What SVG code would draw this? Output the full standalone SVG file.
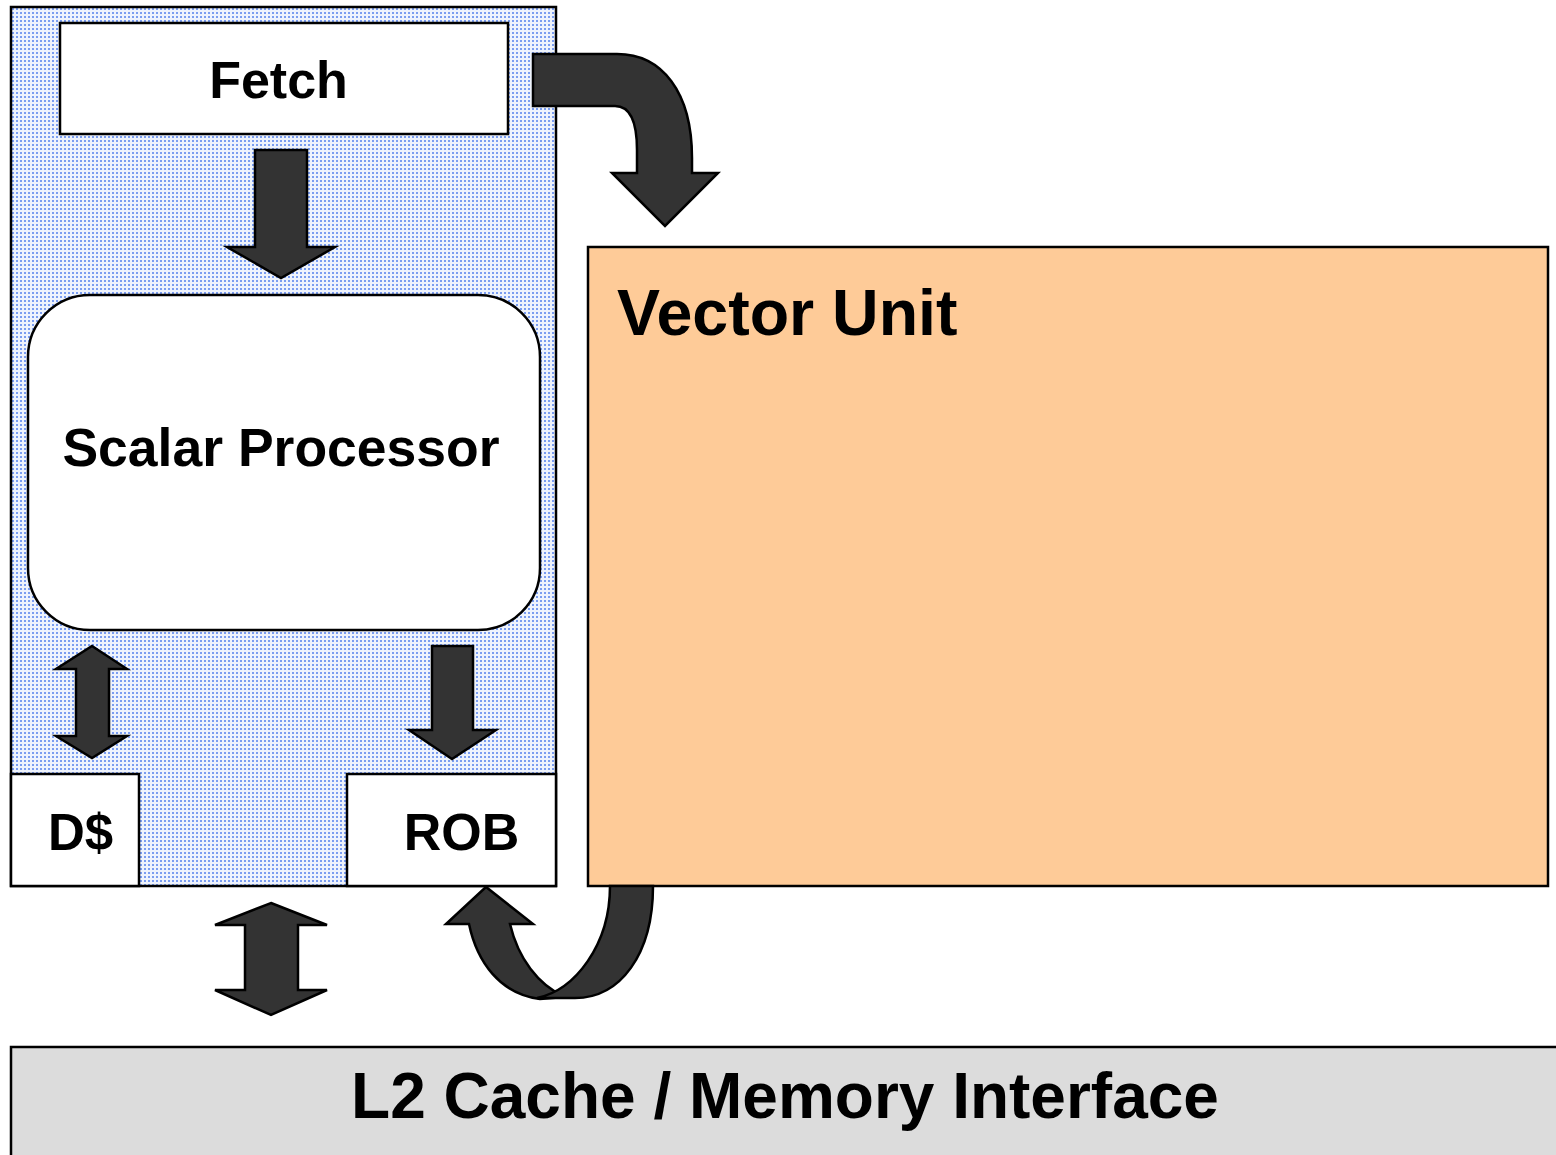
<svg xmlns="http://www.w3.org/2000/svg" width="1556" height="1155" viewBox="0 0 1556 1155">
<defs>
<pattern id="dots" width="4" height="4" patternUnits="userSpaceOnUse">
<rect width="4" height="4" fill="#eef3fd"/>
<rect width="2" height="2" fill="#7a9df0"/>
</pattern>
</defs>
<style>
.box{stroke:#000;stroke-width:2.5}
.arr{fill:#333333;stroke:#000;stroke-width:2.5;stroke-linejoin:miter}
text{font-family:"Liberation Sans",Arial,sans-serif;font-weight:bold;fill:#000}
</style>
<g id="scalar-core">
<rect class="box" x="11" y="7" width="545" height="879" fill="url(#dots)"/>
</g>
<g id="fetch">
<rect class="box" x="60" y="23" width="448" height="111" fill="#fff"/>
<text x="278.5" y="98" font-size="52" text-anchor="middle">Fetch</text>
</g>
<g id="scalar-processor">
<rect class="box" x="28" y="295" width="512" height="335" rx="62" ry="62" fill="#fff"/>
<text x="281" y="466" font-size="53.5" text-anchor="middle">Scalar Processor</text>
</g>
<g id="dcache">
<rect class="box" x="11" y="774" width="128" height="112" fill="#fff"/>
<text x="80.5" y="850" font-size="51" text-anchor="middle">D$</text>
</g>
<g id="rob">
<rect class="box" x="347" y="774" width="209" height="112" fill="#fff"/>
<text x="461.5" y="850" font-size="52" text-anchor="middle">ROB</text>
</g>
<g id="vector-unit">
<rect class="box" x="588" y="247" width="960" height="639" fill="#fecb98"/>
<text x="617" y="335" font-size="64.5">Vector Unit</text>
</g>
<g id="l2">
<rect class="box" x="11" y="1047" width="1560" height="120" fill="#dcdcdc"/>
<text x="785" y="1118" font-size="64" text-anchor="middle">L2 Cache / Memory Interface</text>
</g>
<g id="connectors">
<path class="arr" d="M255,150 L307,150 L307,247 L335,247 L281,278 L227,247 L255,247 Z"/>
<path class="arr" d="M92,646 L127,669 L109,669 L109,736 L127,736 L92,758 L56,736 L76,736 L76,669 L56,669 Z"/>
<path class="arr" d="M432,646 L473,646 L473,730 L496,730 L452,759 L409,730 L432,730 Z"/>
<path class="arr" d="M271,903 L327,925 L298,925 L298,990 L327,990 L271,1015 L215,990 L245,990 L245,925 L215,925 Z"/>
<path class="arr" d="M533,54 L617,54 C662,54 692,92 692,158 L692,173 L718,173 L665,226 L612,173 L637,173 L637,150 C637,122 630,106 615,106 L533,106 Z"/>
<path class="arr" d="M469,924 L446,924 L486,887 L533,924 L510,924 C518,958 538,985 565,997 L540,999 C500,994 477,962 469,924 Z"/>
<path class="arr" d="M610,886 L653,886 C653,955 620,998 575,998 L537,998 C575,990 610,945 610,886 Z"/>
</g>
</svg>
